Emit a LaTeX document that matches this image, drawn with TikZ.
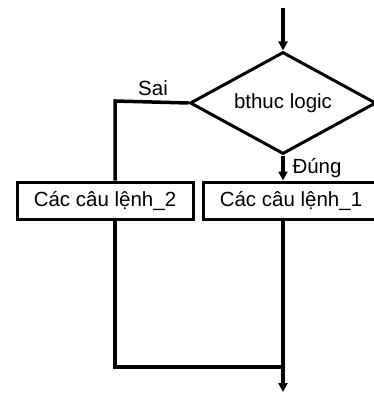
\documentclass[tikz,border=0pt]{standalone}
\usepackage{fontspec}
\setmainfont{Liberation Sans}
\usetikzlibrary{shapes.geometric,arrows.meta}
\begin{document}
\begin{tikzpicture}[x=1pt,y=-1pt,
  every node/.style={font=\fontsize{20.5}{24}\selectfont},
  ln/.style={line width=3.5pt},
  arr/.style={ln,-{Triangle[length=9pt,width=9pt]}},
  box/.style={draw,line width=3pt,rectangle,minimum width=176pt,minimum height=37pt,inner sep=0pt},
  cond/.style={draw,line width=3pt,diamond,minimum width=186pt,minimum height=102pt,inner sep=0pt,aspect=1.82},
  lbl/.style={inner sep=0pt}]
\useasboundingbox (0,0) rectangle (374,393);
\coordinate (top) at (283,8);
\node[cond] (d) at (283,103) {bthuc logic};
\node[box] (b2) at (105,200.5) {Các câu lệnh\_2};
\node[box] (b1) at (291,200.5) {Các câu lệnh\_1};
\coordinate (s) at (115,101);
\coordinate (j) at (283,367);
\coordinate (end) at (283,392);
\coordinate (jl) at (115,367);
\node[lbl] (sai) at (153,88) {Sai};
\node[lbl] (dung) at (317,168) {Đúng};
\draw[arr] (top) -- (d.north);
\draw[arr] (d.south) -- (d.south |- b1.north);
\draw[ln] (d.west) -- (s) -- (s |- b2.north);
\draw[ln] (s |- b2.south) -- (jl) -- (j);
\draw[arr] (d.south |- b1.south) -- (end);
\end{tikzpicture}
\end{document}
